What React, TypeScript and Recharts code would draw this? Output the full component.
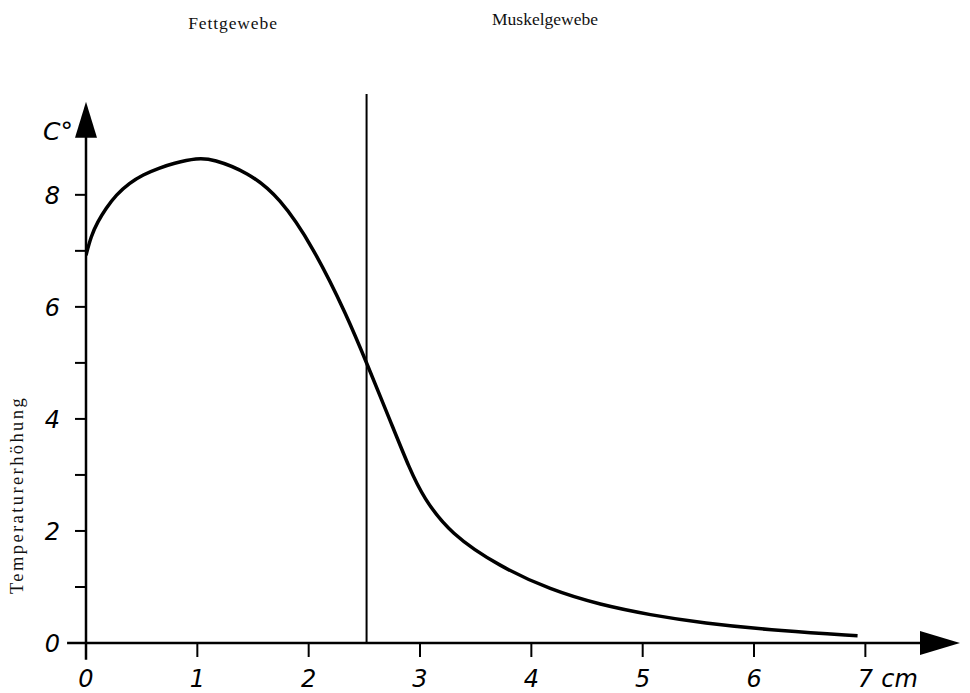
import React from 'react';
import { LineChart, Line, XAxis, YAxis, ReferenceLine, ReferenceDot } from 'recharts';

// Depth in tissue (cm) and temperature rise (°C)
const depthCm = [0, 0.045, 0.105, 0.18, 0.27, 0.39, 0.51, 0.66, 0.78, 1.0, 1.14, 1.45, 1.74, 2.04, 2.35, 2.52, 2.73, 2.91, 3.03, 3.27, 3.72, 4.17, 4.62, 5.07, 5.52, 6.26, 6.93];
const tempRise = [6.92, 7.26, 7.52, 7.76, 8.0, 8.21, 8.36, 8.48, 8.56, 8.66, 8.64, 8.41, 7.96, 7.07, 5.82, 5.0, 3.98, 3.09, 2.6, 1.95, 1.36, 0.95, 0.68, 0.5, 0.36, 0.21, 0.13];

const xTicks = [0, 1, 2, 3, 4, 5, 6, 7];
const yTicks = [0, 1, 2, 3, 4, 5, 6, 7, 8];
const yLabelled = [0, 2, 4, 6, 8];
const xUnit = 'cm';
const yUnit = 'C°';
const yTitle = 'Temperaturerhöhung';
const boundaryCm = [2.52];
const regionLabels = ['Fettgewebe', 'Muskelgewebe'];

const X_MAX = 7.85;
const Y_MAX = 9.8;
const Y_ARROW = 9.66;

const data = depthCm.map((x, i) => ({ x, t: tempRise[i] }));

const numFont = '"DejaVu Sans", sans-serif';
const serifFont = '"Liberation Serif", serif';

const XTick = (props: any) => {
  const { x, y, payload } = props;
  const isLast = payload.value === xTicks[xTicks.length - 1];
  return (
    <g>
      <text x={x} y={y} dy={28} textAnchor="middle" fontStyle="italic" fontSize={24} fontFamily={numFont} fill="#000">
        {payload.value}
      </text>
      {isLast && (
        <text x={x + 16} y={y} dy={28} textAnchor="start" fontStyle="italic" fontSize={24} fontFamily={numFont} fill="#000">
          {xUnit}
        </text>
      )}
    </g>
  );
};

const YTick = (props: any) => {
  const { x, y, payload } = props;
  if (!yLabelled.includes(payload.value)) return <g />;
  return (
    <text x={x} y={y} dy={9} textAnchor="end" fontStyle="italic" fontSize={24} fontFamily={numFont} fill="#000">
      {payload.value}
    </text>
  );
};

const UpArrow = (props: any) => {
  const { cx, cy } = props;
  return <polygon points={`${cx},${cy} ${cx - 11},${cy + 36} ${cx + 11},${cy + 36}`} fill="#000" />;
};

const RightArrow = (props: any) => {
  const { cx, cy } = props;
  return <polygon points={`${cx},${cy} ${cx - 40},${cy - 12} ${cx - 40},${cy + 12}`} fill="#000" />;
};

export default function App() {
  return (
    <div style={{ position: 'absolute', left: 0, top: 0, width: 970, height: 693, background: '#fff' }}>
      <LineChart
        width={970}
        height={693}
        data={data}
        margin={{ top: 94, right: 10, bottom: 0, left: 26 }}
      >
        <XAxis
          type="number"
          dataKey="x"
          domain={[0, X_MAX]}
          ticks={xTicks}
          allowDataOverflow
          axisLine={false}
          tickLine={{ stroke: '#000', strokeWidth: 2 }}
          tickSize={14}
          height={50}
          tick={<XTick />}
          interval={0}
        />
        <YAxis
          type="number"
          domain={[0, Y_MAX]}
          ticks={yTicks}
          allowDataOverflow
          axisLine={false}
          tickLine={{ stroke: '#000', strokeWidth: 2 }}
          tickSize={11}
          tickMargin={15}
          width={60}
          tick={<YTick />}
          interval={0}
        />
        <ReferenceLine
          segment={[{ x: -0.17, y: 0 }, { x: X_MAX - 0.2, y: 0 }]}
          stroke="#000"
          strokeWidth={2.5}
          ifOverflow="visible"
        />
        <ReferenceLine
          segment={[{ x: 0, y: -0.3 }, { x: 0, y: Y_ARROW - 0.3 }]}
          stroke="#000"
          strokeWidth={2.5}
          ifOverflow="visible"
        />
        <ReferenceDot x={0} y={Y_ARROW} r={1} ifOverflow="visible" shape={<UpArrow />} />
        <ReferenceDot x={X_MAX} y={0} r={1} ifOverflow="visible" shape={<RightArrow />} />
        {boundaryCm.map((b) => (
          <ReferenceLine
            key={b}
            segment={[{ x: b, y: 0 }, { x: b, y: Y_MAX }]}
            stroke="#000"
            strokeWidth={2}
            ifOverflow="visible"
          />
        ))}
        <Line
          type="basis"
          dataKey="t"
          stroke="#000"
          strokeWidth={3.5}
          dot={false}
          isAnimationActive={false}
        />
      </LineChart>
      <div style={{ position: 'absolute', left: 233, top: 14, transform: 'translateX(-50%)', fontFamily: serifFont, fontSize: 17.5, lineHeight: '18px', whiteSpace: 'nowrap', color: '#111', letterSpacing: 0.9 }}>
        {regionLabels[0]}
      </div>
      <div style={{ position: 'absolute', left: 545, top: 10, transform: 'translateX(-50%)', fontFamily: serifFont, fontSize: 17.5, lineHeight: '18px', whiteSpace: 'nowrap', color: '#111' }}>
        {regionLabels[1]}
      </div>
      <div style={{ position: 'absolute', left: 17, top: 495, transform: 'translate(-50%, -50%) rotate(-90deg)', fontFamily: serifFont, fontSize: 18.5, lineHeight: '20px', whiteSpace: 'nowrap', color: '#111', letterSpacing: 2.4 }}>
        {yTitle}
      </div>
      <div style={{ position: 'absolute', left: 43, top: 117, fontFamily: numFont, fontStyle: 'italic', fontSize: 25, lineHeight: '30px', whiteSpace: 'nowrap', color: '#000' }}>
        {yUnit}
      </div>
    </div>
  );
}
